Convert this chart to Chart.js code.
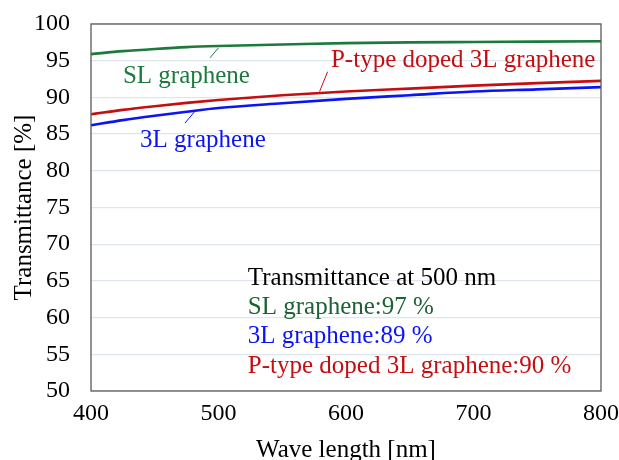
<!DOCTYPE html>
<html>
<head>
<meta charset="utf-8">
<script src="https://cdn.jsdelivr.net/npm/chart.js@4.4.0/dist/chart.umd.min.js"></script>
<style>
  html, body { margin: 0; padding: 0; background: #fff; }
  #wrap { width: 619px; height: 460px; }
</style>
</head>
<body>
<div id="wrap"><canvas id="myChart" width="619" height="460"></canvas></div>
<script>
// wavelength samples [nm]
const waveLengths = [400, 425, 450, 475, 500, 550, 600, 650, 700, 750, 800];
// transmittance [%]
const slGraphene  = [95.9, 96.3, 96.6, 96.85, 97.0, 97.2, 97.4, 97.5, 97.55, 97.6, 97.65];
const tlGraphene  = [86.2, 86.9, 87.5, 88.05, 88.55, 89.2, 89.8, 90.3, 90.8, 91.1, 91.4];
const pDopedTL    = [87.7, 88.3, 88.8, 89.25, 89.65, 90.3, 90.8, 91.2, 91.6, 91.95, 92.25];
const yTicks = [50, 55, 60, 65, 70, 75, 80, 85, 90, 95, 100];
const xTicks = [400, 500, 600, 700, 800];

const GREEN = '#1b7a3c';
const DARK_GREEN = '#1d6234';
const BLUE = '#0a14f5';
const RED = '#c40f12';
const FONT = '"Liberation Serif", "Times New Roman", serif';

function pts(ys) {
  return waveLengths.map((x, i) => ({ x: x, y: ys[i] }));
}

// text labels and leader lines, placed in data coordinates
const notes = [
  { text: 'SL graphene', x: 425, y: 91.9, color: GREEN, line: [493.3, 95.4, 500, 96.75] },
  { text: '3L graphene', x: 438.5, y: 83.3, color: BLUE, line: [473.7, 86.5, 481, 88.0] },
  { text: 'P-type doped 3L graphene', x: 588.2, y: 94.2, color: RED, line: [579.3, 90.8, 585.6, 93.5] },
  { text: 'Transmittance at 500 nm', x: 523, y: 64.4, color: '#000' },
  { text: 'SL graphene:97 %', x: 523, y: 60.45, color: DARK_GREEN },
  { text: '3L graphene:89 %', x: 523, y: 56.5, color: BLUE },
  { text: 'P-type doped 3L graphene:90 %', x: 523, y: 52.4, color: RED }
];

const notesPlugin = {
  id: 'notes',
  afterDatasetsDraw(chart) {
    const { ctx, chartArea: a, scales: { x, y } } = chart;
    ctx.save();
    // frame around the plot
    ctx.strokeStyle = '#5a5a5a';
    ctx.lineWidth = 1.3;
    ctx.strokeRect(a.left, a.top, a.right - a.left, a.bottom - a.top);
    ctx.font = '25px ' + FONT;
    ctx.textBaseline = 'alphabetic';
    ctx.textAlign = 'left';
    notes.forEach(n => {
      ctx.fillStyle = n.color;
      ctx.fillText(n.text, x.getPixelForValue(n.x), y.getPixelForValue(n.y));
      if (n.line) {
        ctx.strokeStyle = n.color;
        ctx.lineWidth = 1;
        ctx.beginPath();
        ctx.moveTo(x.getPixelForValue(n.line[0]), y.getPixelForValue(n.line[1]));
        ctx.lineTo(x.getPixelForValue(n.line[2]), y.getPixelForValue(n.line[3]));
        ctx.stroke();
      }
    });
    ctx.restore();
  }
};

const lineStyle = { borderWidth: 2.6, pointRadius: 0, cubicInterpolationMode: 'monotone', fill: false };

new Chart('myChart', {
  type: 'line',
  data: {
    datasets: [
      Object.assign({ label: 'SL graphene', data: pts(slGraphene), borderColor: GREEN }, lineStyle),
      Object.assign({ label: 'P-type doped 3L graphene', data: pts(pDopedTL), borderColor: RED }, lineStyle),
      Object.assign({ label: '3L graphene', data: pts(tlGraphene), borderColor: BLUE }, lineStyle)
    ]
  },
  options: {
    responsive: false,
    animation: false,
    layout: { padding: { left: 9, right: 18, top: 24, bottom: 0 } },
    plugins: { legend: { display: false }, tooltip: { enabled: false } },
    scales: {
      x: {
        type: 'linear',
        min: 400, max: 800,
        afterBuildTicks: s => { s.ticks = xTicks.map(v => ({ value: v })); },
        afterFit: s => { s.height = 69; s.paddingLeft = 0; s.paddingRight = 0; },
        grid: { display: false, drawTicks: false },
        border: { display: false },
        ticks: { color: '#000', font: { family: FONT, size: 24 }, padding: 8, maxRotation: 0 },
        title: { display: true, text: 'Wave length [nm]', color: '#000', font: { family: FONT, size: 25 }, padding: { top: 0, bottom: -5 } }
      },
      y: {
        min: 50, max: 100,
        afterBuildTicks: s => { s.ticks = yTicks.map(v => ({ value: v })); },
        afterFit: s => { s.width = 82; s.paddingTop = 0; s.paddingBottom = 0; },
        grid: { color: '#dfe5ec', lineWidth: 1.3, drawTicks: false },
        border: { display: false },
        ticks: { color: '#000', font: { family: FONT, size: 24 }, padding: 21 },
        title: { display: true, text: 'Transmittance [%]', color: '#000', font: { family: FONT, size: 25 }, padding: 0 }
      }
    }
  },
  plugins: [notesPlugin]
});
</script>
</body>
</html>
